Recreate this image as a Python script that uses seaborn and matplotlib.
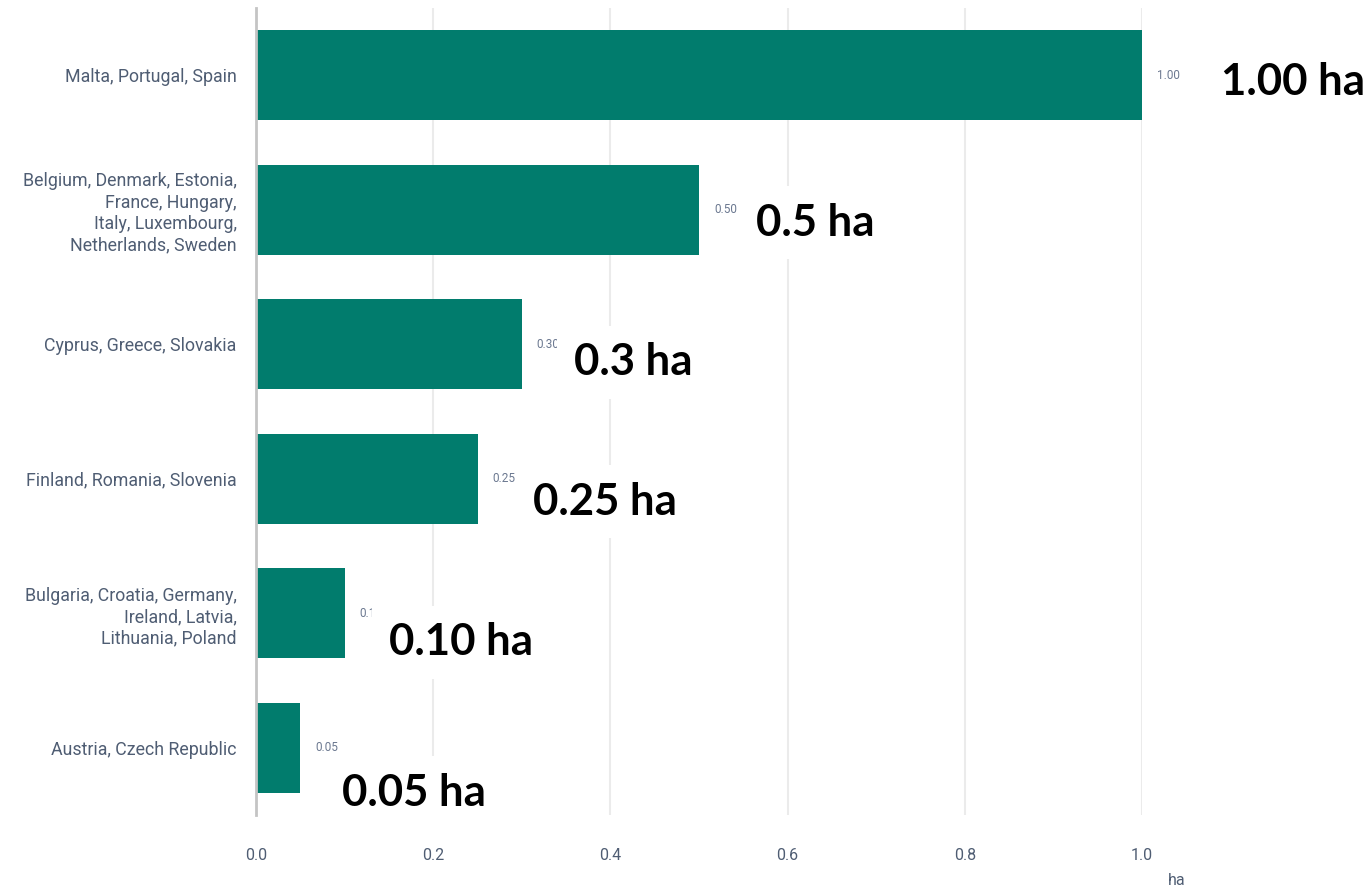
# minimum area thresholds per country group, horizontal bar chart

import pandas as pd
import seaborn as sns
import matplotlib.pyplot as plt

groups = [
    'Malta, Portugal, Spain',
    'Belgium, Denmark, Estonia,\nFrance, Hungary,\nItaly, Luxembourg,\nNetherlands, Sweden',
    'Cyprus, Greece, Slovakia',
    'Finland, Romania, Slovenia',
    'Bulgaria, Croatia, Germany,\nIreland, Latvia,\nLithuania, Poland',
    'Austria, Czech Republic',
]
values = [1.00, 0.50, 0.30, 0.25, 0.10, 0.05]
small_labels = ['1.00', '0.50', '0.30', '0.25', '0.10', '0.05']
big_labels = ['1.00 ha', '0.5 ha', '0.3 ha', '0.25 ha', '0.10 ha', '0.05 ha']

# pixel offsets of the overlaid callouts from the bar end
big_dx = [79, 57, 52, 55, 44, 42]
big_dy = [-7, -13, -18, -23, -29, -45]

df = pd.DataFrame({'group': groups, 'value': values})

bar_color = '#017c6d'
tick_color = '#4f5d73'

fig = plt.figure(figsize=(13.7, 8.89), dpi=100)
ax = fig.add_axes([0.1869, 0.0832, 0.6467, 0.9078])

sns.barplot(data=df, x='value', y='group', orient='h', color=bar_color,
            width=0.67, saturation=1, ax=ax)

ax.set_xlim(0, 1.0)
ax.set_ylim(5.5, -0.5)
ax.set_xticks([0.0, 0.2, 0.4, 0.6, 0.8, 1.0])
ax.set_xticklabels(['0.0', '0.2', '0.4', '0.6', '0.8', '1.0'])
ax.grid(axis='x', color='#ebebeb', linewidth=1.5)
ax.set_axisbelow(True)
for s in ['top', 'right', 'bottom']:
    ax.spines[s].set_visible(False)
ax.spines['left'].set_color('#c4c4c4')
ax.spines['left'].set_linewidth(2)
ax.tick_params(axis='both', length=0, colors=tick_color)
ax.tick_params(axis='x', pad=24)
ax.tick_params(axis='y', pad=14)
for lab in ax.get_xticklabels():
    lab.set_fontfamily('Roboto')
    lab.set_fontsize(11.5)
for lab in ax.get_yticklabels():
    lab.set_fontfamily('Roboto')
    lab.set_fontsize(12.8)
    lab.set_linespacing(1.25)

ax.set_ylabel('')
ax.set_xlabel('ha', fontfamily='Roboto', fontsize=11.5, color=tick_color)
ax.xaxis.set_label_coords(1.0395, -0.072)

# small value labels, partly hidden under the big callouts
for i, (v, t) in enumerate(zip(values, small_labels)):
    ax.annotate(t, (v, i), xytext=(15, 0), textcoords='offset pixels',
                va='center', ha='left', fontfamily='Roboto', fontsize=8.5,
                color='#6b7890', annotation_clip=False)

# bold callouts with white background
for i, (v, t) in enumerate(zip(values, big_labels)):
    ax.annotate(t, (v, i), xytext=(big_dx[i], big_dy[i]), textcoords='offset pixels',
                va='center', ha='left', fontfamily='Lato', fontweight='bold',
                fontsize=31.5, color='black', annotation_clip=False, zorder=5,
                bbox=dict(facecolor='white', edgecolor='none', pad=12))

plt.savefig('out.png', dpi=100)
